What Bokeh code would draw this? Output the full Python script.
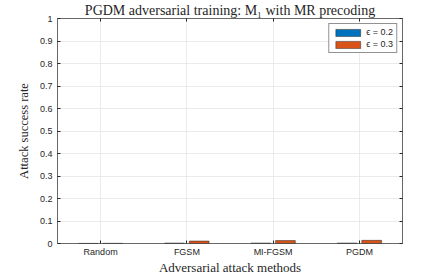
from bokeh.plotting import figure
from bokeh.models import (LinearAxis, FixedTicker, Range1d, Legend,
                          LegendItem, ColumnDataSource)
from bokeh.embed import file_html
from bokeh.resources import INLINE

# ---- data ----
categories = ["Random", "FGSM", "MI-FGSM", "PGDM"]
eps_02 = [0.0005, 0.002, 0.002, 0.002]
eps_03 = [0.0008, 0.011, 0.013, 0.014]
series_labels = ["\u03f5 = 0.2", "\u03f5 = 0.3"]
y_ticks = [0, 0.1, 0.2, 0.3, 0.4, 0.5, 0.6, 0.7, 0.8, 0.9, 1.0]
y_tick_labels = ["0", "0.1", "0.2", "0.3", "0.4", "0.5", "0.6", "0.7", "0.8", "0.9", "1"]
title_text = "PGDM adversarial training: M\u2081 with MR precoding"
x_label = "Adversarial attack methods"
y_label = "Attack success rate"

BLUE = "#0072BD"
ORANGE = "#D95319"
DARK = "#262626"
GRID = "#e3e3e3"

n = len(categories)
xs = list(range(1, n + 1))
offset = 0.143
bar_w = 0.229

src = ColumnDataSource(dict(
    x02=[x - offset for x in xs], x03=[x + offset for x in xs],
    e02=eps_02, e03=eps_03))

p = figure(width=443, height=277, output_backend="svg", toolbar_location=None,
           x_range=Range1d(0.5, n + 0.5), y_range=Range1d(0, 1),
           min_border_left=57, min_border_right=41, min_border_top=0,
           min_border_bottom=29, title=title_text)
p.outline_line_color = None
p.background_fill_color = "white"
p.border_fill_color = "white"

p.title.align = "center"
p.title.text_font = "Liberation Serif"
p.title.text_font_size = "14px"
p.title.text_font_style = "normal"
p.title.text_color = DARK
p.title.standoff = 1
p.title.offset = 0

r1 = p.vbar(x="x02", top="e02", width=bar_w, bottom=0, source=src,
            fill_color=BLUE, line_color=DARK, line_width=0.5)
r2 = p.vbar(x="x03", top="e03", width=bar_w, bottom=0, source=src,
            fill_color=ORANGE, line_color=DARK, line_width=0.5)

# axes
xa = p.xaxis[0]
ya = p.yaxis[0]
xa.ticker = FixedTicker(ticks=xs)
xa.major_label_overrides = {x: c for x, c in zip(xs, categories)}
ya.ticker = FixedTicker(ticks=y_ticks)
ya.major_label_overrides = {t: l for t, l in zip(y_ticks, y_tick_labels)}

for ax in (xa, ya):
    ax.axis_line_color = DARK
    ax.axis_line_width = 0.7
    ax.major_tick_line_color = DARK
    ax.major_tick_in = 3
    ax.major_tick_out = 0
    ax.minor_tick_line_color = None
    ax.major_label_text_font = "Liberation Sans"
    ax.major_label_text_font_size = "9px"
    ax.major_label_text_color = DARK
    ax.axis_label_text_font = "Liberation Serif"
    ax.axis_label_text_font_size = "13px"
    ax.axis_label_text_font_style = "normal"
    ax.axis_label_text_color = DARK
xa.axis_label = x_label
ya.axis_label = y_label
ya.axis_label_text_font_size = "12.5px"
xa.major_label_standoff = 3
ya.major_label_standoff = 5
xa.axis_label_standoff = 0
ya.axis_label_standoff = 6

top_ax = LinearAxis(ticker=FixedTicker(ticks=xs))
right_ax = LinearAxis(ticker=FixedTicker(ticks=y_ticks))
top_ax.major_label_overrides = {x: "" for x in xs}
right_ax.major_label_overrides = {t: "" for t in y_ticks}
for ax in (top_ax, right_ax):
    ax.axis_line_color = DARK
    ax.axis_line_width = 0.7
    ax.major_tick_line_color = DARK
    ax.major_tick_in = 3
    ax.major_tick_out = 0
    ax.minor_tick_line_color = None
    ax.major_label_standoff = 0
p.add_layout(top_ax, "above")
p.add_layout(right_ax, "right")

# grid
p.xgrid.ticker = FixedTicker(ticks=xs)
p.ygrid.ticker = FixedTicker(ticks=y_ticks)
p.xgrid.grid_line_color = GRID
p.ygrid.grid_line_color = GRID
p.xgrid.grid_line_width = 0.7
p.ygrid.grid_line_width = 0.7

legend = Legend(items=[LegendItem(label=series_labels[0], renderers=[r1]),
                       LegendItem(label=series_labels[1], renderers=[r2])],
                location="top_right")
legend.label_text_font = "Liberation Sans"
legend.label_text_font_size = "9px"
legend.label_text_color = DARK
legend.glyph_width = 31
legend.glyph_height = 9
legend.spacing = 2
legend.padding = 3
legend.margin = 5
legend.label_standoff = 3
legend.label_height = 9
legend.border_line_color = DARK
legend.border_line_width = 0.6
legend.background_fill_alpha = 1
p.add_layout(legend)

open("out.html", "w").write(file_html(p, INLINE))
